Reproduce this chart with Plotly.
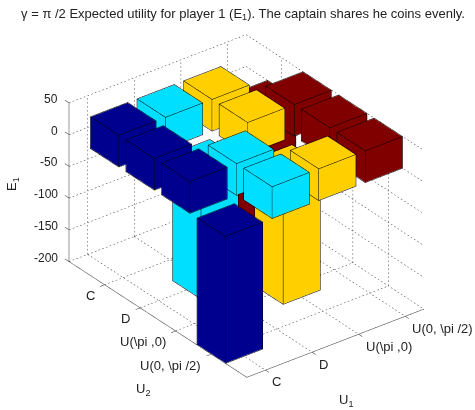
import plotly.graph_objects as go

u1_labels = ["C", "D", "U(\\pi ,0)", "U(0, \\pi /2)"]
u2_labels = ["C", "D", "U(\\pi ,0)", "U(0, \\pi /2)"]
z_ticks = [50, 0, -50, -100, -150, -200]

u1_c = [50, 50, 50, -200]
u1_d = [50, -200, 50, 50]
u1_pi = [50, 50, -200, 50]
u1_pi2 = [-200, 50, 50, 50]
series = [u1_c, u1_d, u1_pi, u1_pi2]
colors = ["#00008F", "#00DFFF", "#FFCF00", "#800000"]

half = 0.4
inset = 0.004
z_inset = 0.5
x_lim = [0.6, 4.4]
y_lim = [0, 5]
z_lim = [-200, 50]
ticks = [1, 2, 3, 4]
FONT = "Liberation Sans, Arial, sans-serif"
INK = "#222222"

PX = (50.2, 42.8, 0.636)  # approximate on-screen pixels per data unit along each axis
DOT_PERIOD = 4.0

fig = go.Figure()

# dotted grid
gx, gy, gz = [], [], []
def seg(a, b):
    length = sum(((b[i] - a[i]) * PX[i]) ** 2 for i in range(3)) ** 0.5
    n = int(round(length / DOT_PERIOD))
    for k in range(n):
        s0 = k / n
        s1 = (k + 0.4) / n
        gx.extend([a[0] + (b[0] - a[0]) * s0, a[0] + (b[0] - a[0]) * s1, None])
        gy.extend([a[1] + (b[1] - a[1]) * s0, a[1] + (b[1] - a[1]) * s1, None])
        gz.extend([a[2] + (b[2] - a[2]) * s0, a[2] + (b[2] - a[2]) * s1, None])
for t in ticks:
    seg((t, y_lim[0], z_lim[0]), (t, y_lim[1], z_lim[0]))
    seg((x_lim[0], t, z_lim[0]), (x_lim[1], t, z_lim[0]))
    seg((t, y_lim[0], z_lim[0]), (t, y_lim[0], z_lim[1]))
    seg((x_lim[1], t, z_lim[0]), (x_lim[1], t, z_lim[1]))
for z in z_ticks:
    seg((x_lim[0], y_lim[0], z), (x_lim[1], y_lim[0], z))
    seg((x_lim[1], y_lim[0], z), (x_lim[1], y_lim[1], z))
fig.add_trace(go.Scatter3d(x=gx, y=gy, z=gz, mode="lines", hoverinfo="skip", showlegend=False,
                           line=dict(color="#333333", width=1)))

# axes and tick marks
ax, ay, az = [], [], []
def aseg(a, b):
    ax.extend([a[0], b[0], None]); ay.extend([a[1], b[1], None]); az.extend([a[2], b[2], None])
aseg((x_lim[0], y_lim[0], z_lim[0]), (x_lim[0], y_lim[0], z_lim[1]))
aseg((x_lim[0], y_lim[0], z_lim[0]), (x_lim[0], y_lim[1], z_lim[0]))
aseg((x_lim[0], y_lim[1], z_lim[0]), (x_lim[1], y_lim[1], z_lim[0]))
for t in ticks:
    aseg((x_lim[0], t, z_lim[0]), (x_lim[0] - 0.1, t, z_lim[0]))
    aseg((t, y_lim[1], z_lim[0]), (t, y_lim[1] + 0.1, z_lim[0]))
for z in z_ticks:
    aseg((x_lim[0], y_lim[0], z), (x_lim[0], y_lim[0] - 0.12, z))
fig.add_trace(go.Scatter3d(x=ax, y=ay, z=az, mode="lines", hoverinfo="skip", showlegend=False,
                           line=dict(color="#333333", width=1)))

# bars
ex, ey, ez = [], [], []
quads = [(0, 1, 2, 3), (4, 5, 6, 7), (0, 1, 5, 4), (1, 2, 6, 5), (2, 3, 7, 6), (3, 0, 4, 7)]
for s, (vals, col) in enumerate(zip(series, colors)):
    mx, my, mz, ii, jj, kk = [], [], [], [], [], []
    for r, v in enumerate(vals):
        xc, yc = s + 1, r + 1
        b = len(mx)
        h = half - inset
        sgn = 1 if v > 0 else -1
        for zv in [sgn * z_inset, v - sgn * z_inset]:
            mx += [xc - h, xc + h, xc + h, xc - h]
            my += [yc - h, yc - h, yc + h, yc + h]
            mz += [zv] * 4
        for q in quads:
            ii += [b + q[0], b + q[0]]
            jj += [b + q[1], b + q[2]]
            kk += [b + q[2], b + q[3]]
        cx = [xc - half, xc + half, xc + half, xc - half] * 2
        cy = [yc - half, yc - half, yc + half, yc + half] * 2
        cz = [0] * 4 + [v] * 4
        for q in quads:
            for n in [q[0], q[1], q[2], q[3], q[0]]:
                ex.append(cx[n]); ey.append(cy[n]); ez.append(cz[n])
            ex.append(None); ey.append(None); ez.append(None)
    fig.add_trace(go.Mesh3d(x=mx, y=my, z=mz, i=ii, j=jj, k=kk, color=col, flatshading=True,
                            hoverinfo="skip", showscale=False,
                            lighting=dict(ambient=1, diffuse=0, specular=0, fresnel=0, roughness=1)))
fig.add_trace(go.Scatter3d(x=ex, y=ey, z=ez, mode="lines", hoverinfo="skip", showlegend=False,
                           line=dict(color="#000000", width=1)))

# tick labels
ann = []
tf = dict(family=FONT, size=12, color=INK)
lf = dict(family=FONT, size=13, color=INK)
for z in z_ticks:
    ann.append(dict(x=x_lim[0], y=y_lim[0], z=z, text=str(z), showarrow=False, xanchor="right",
                    yanchor="middle", xshift=-9, yshift=4, font=tf))
for t, lab in zip(ticks, u2_labels):
    ann.append(dict(x=x_lim[0], y=t, z=z_lim[0], text=lab, showarrow=False, xanchor="right",
                    yanchor="middle", xshift=-8, yshift=-11, font=lf))
for t, lab in zip(ticks, u1_labels):
    ann.append(dict(x=t, y=y_lim[1], z=z_lim[0], text=lab, showarrow=False, xanchor="left",
                    yanchor="middle", xshift=5, yshift=-12, font=lf))

K = 200.0
xr = [0.4, 4.6]
yr = [5.2, -0.2]
zr = [-210, 60]
aspect = dict(x=4.2 * 59.1 / K, y=5.4 * 58.6 / K, z=270 * 0.737 / K)
el_x, el_y, el_z = -0.527, -0.685, 0.5
dist = 2.07

ax_off = dict(visible=False, showgrid=False, showspikes=False, showbackground=False, zeroline=False)
fig.update_layout(
    width=475, height=410, margin=dict(l=0, r=0, t=0, b=0), showlegend=False,
    paper_bgcolor="white",
    title=dict(text="γ = π /2 Expected utility for player 1 (E<sub>1</sub>). The captain shares he coins evenly.",
               x=243 / 475, xanchor="center", y=1 - 13 / 410, yanchor="middle",
               font=dict(family=FONT, size=13, color=INK)),
    scene=dict(
        domain=dict(x=[0.038, 1], y=[0.0126, 0.9826]),
        xaxis=dict(range=xr, **ax_off),
        yaxis=dict(range=yr, **ax_off),
        zaxis=dict(range=zr, **ax_off),
        aspectmode="manual", aspectratio=aspect,
        camera=dict(projection=dict(type="orthographic"),
                    up=dict(x=0, y=0, z=1), center=dict(x=0, y=0, z=0),
                    eye=dict(x=el_x * dist, y=el_y * dist, z=el_z * dist)),
        annotations=ann,
    ),
    annotations=[
        dict(x=13 / 475, y=1 - 184 / 410, xref="paper", yref="paper", text="E<sub>1</sub>", textangle=-90,
             xanchor="center", yanchor="middle", showarrow=False, font=dict(family=FONT, size=13, color=INK)),
        dict(x=143 / 475, y=1 - 389 / 410, xref="paper", yref="paper", text="U<sub>2</sub>",
             xanchor="center", yanchor="middle", showarrow=False, font=dict(family=FONT, size=13, color=INK)),
        dict(x=346 / 475, y=1 - 400 / 410, xref="paper", yref="paper", text="U<sub>1</sub>",
             xanchor="center", yanchor="middle", showarrow=False, font=dict(family=FONT, size=13, color=INK)),
    ],
)
fig.write_html("out.html", config={"displayModeBar": False},
               post_script="document.body.style.margin='0';document.body.style.overflow='hidden';")
